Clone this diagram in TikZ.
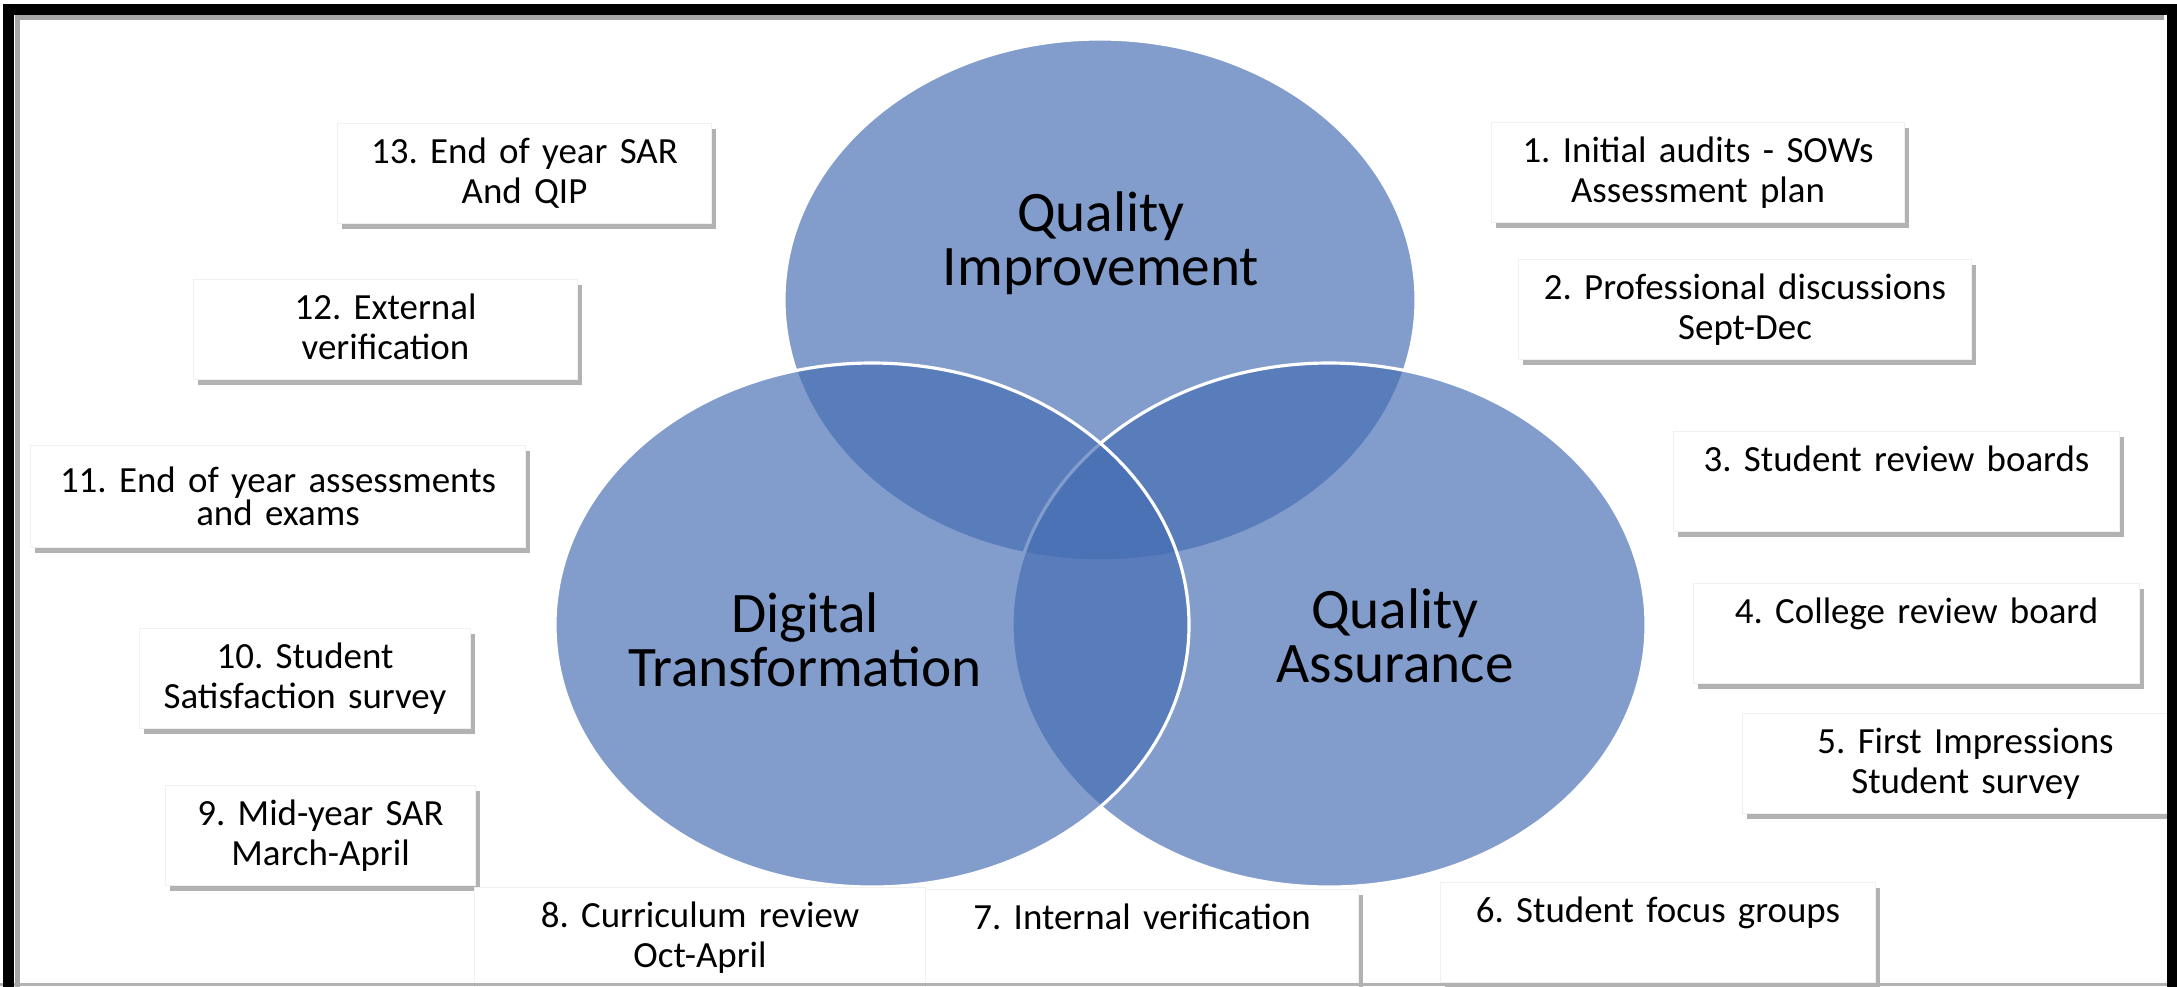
\documentclass[tikz,border=0pt]{standalone}
\usepackage{fontspec}
\setmainfont{Carlito}
\usepackage{xcolor}
\usetikzlibrary{shadows,positioning}
\definecolor{vennblue}{RGB}{70,110,180}
\frenchspacing

\begin{document}
\begin{tikzpicture}[
    venn/.style={fill=vennblue, fill opacity=0.67, draw=white, line width=0.9pt},
    vennlabel/.style={font=\fontsize{16.3}{15.4}\selectfont, align=center, text width=5cm, inner sep=0pt, anchor=base},
    card/.style={rectangle, fill=white, draw=black!6, line width=0.3pt, inner sep=0pt, anchor=north west,
        align=center, font=\fontsize{10.5}{11.4}\selectfont, text height=0.40cm, text depth=0.60cm,
        drop shadow={shadow xshift=0.045cm, shadow yshift=-0.05cm, fill=black, opacity=0.3}}]
    \useasboundingbox (0,0) rectangle (21.77,9.86);
    \fill[white] (0,0) rectangle (21.77,9.86);

    \path[venn] (11.00,6.86) ellipse [x radius=3.16, y radius=2.61];
    \path[venn] (13.29,3.61) ellipse [x radius=3.17, y radius=2.62];
    \path[venn] (8.72,3.61) ellipse [x radius=3.17, y radius=2.62];

    \node[vennlabel] (qi) at (11.01,7.55) {Quality\\Improvement};
    \node[vennlabel] (dt) at (8.05,3.54) {Digital\\Transformation};
    \node[vennlabel] (qa) at (13.95,3.58) {Quality\\Assurance};

    \foreach \n/\x/\y/\w/\txt in {
        13/3.37/8.63/3.74/{13. End of year SAR\\And QIP},
        12/1.93/7.07/3.84/{12. External\\verification},
        10/1.39/3.58/3.31/{10. Student\\Satisfaction survey},
        9/1.65/2.01/3.10/{9. Mid-year SAR\\March-April},
        8/4.74/0.99/4.51/{8. Curriculum review\\Oct-April},
        7/9.25/0.97/4.33/{7. Internal verification},
        6/14.40/1.04/4.35/{6. Student focus groups},
        5/17.42/2.73/4.46/{5. First Impressions\\Student survey},
        4/16.93/4.03/4.46/{4. College review board},
        3/16.73/5.55/4.46/{3. Student review boards},
        2/15.18/7.27/4.53/{2. Professional discussions\\Sept-Dec},
        1/14.91/8.64/4.13/{1. Initial audits - SOWs\\Assessment plan}}
        {\node[card, text width=\w cm] (card\n) at (\x,\y) {\txt};}
    \node[card, text width=4.95cm, text height=0.47cm, text depth=0.55cm, font=\fontsize{10.5}{9.4}\selectfont]
        (card11) at (0.30,5.41) {11. End of year assessments\\and exams};

    \draw[black!30, line width=0.03cm] (0,0.015) -- (21.77,0.015);
    \draw[black!35, line width=0.05cm] (0.175,-0.2) -- (0.175,9.69) -- (21.64,9.69);
    \draw[line width=0.11cm] (0.09,-0.2) -- (0.09,9.765) -- (21.72,9.765) -- (21.72,-0.2);
\end{tikzpicture}
\end{document}
